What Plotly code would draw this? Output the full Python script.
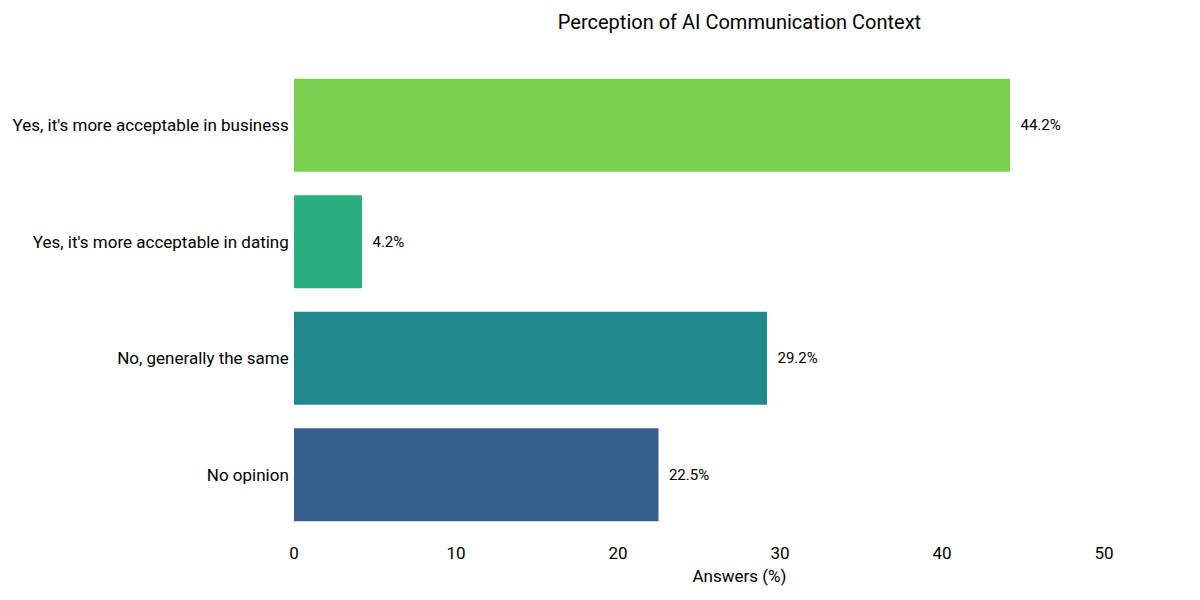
import plotly.graph_objects as go

# data
answers = [
    "No opinion",
    "No, generally the same",
    "Yes, it's more acceptable in dating",
    "Yes, it's more acceptable in business",
]
percent = [22.5, 29.2, 4.2, 44.2]
bar_colors = ["#355f8d", "#21898c", "#2ab07f", "#7ad151"]

fig = go.Figure()
fig.add_trace(go.Bar(
    x=percent,
    y=answers,
    orientation="h",
    marker=dict(color=bar_colors, line=dict(width=0)),
    width=0.8,
    text=[f"  {v:.1f}%" for v in percent],
    textposition="outside",
    textfont=dict(size=15, color="#000000"),
    cliponaxis=False,
    showlegend=False,
))

fig.update_layout(
    title=dict(text="Perception of AI Communication Context", x=0.5, xref="paper",
               y=0.976, yanchor="middle", font=dict(size=20, color="#000000")),
    width=1200,
    height=600,
    margin=dict(l=286, r=23, t=59, b=75),
    plot_bgcolor="white",
    paper_bgcolor="white",
    font=dict(family="Roboto, Inter, sans-serif", size=17, color="#000000"),
    xaxis=dict(
        title=dict(text="Answers (%)", font=dict(size=17), standoff=8),
        range=[0, 55],
        tickvals=[0, 10, 20, 30, 40, 50],
        showgrid=False,
        zeroline=False,
        showline=False,
        ticks="",
        ticklabelstandoff=8,
        tickfont=dict(size=17),
        automargin=False,
    ),
    yaxis=dict(
        showgrid=False,
        zeroline=False,
        showline=False,
        ticks="",
        ticksuffix=" ",
        tickfont=dict(size=17),
        automargin=False,
    ),
)

fig.write_html("out.html")
